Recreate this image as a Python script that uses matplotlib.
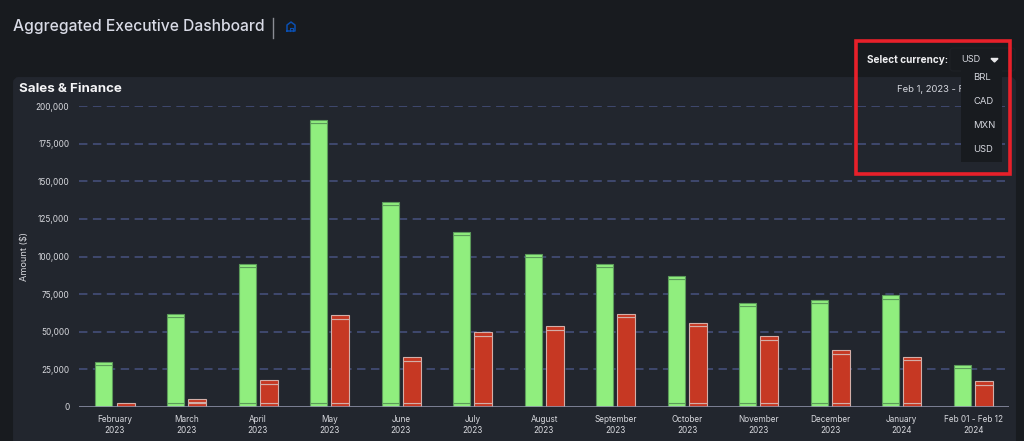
import matplotlib
matplotlib.use("Agg")
import matplotlib.pyplot as plt
from matplotlib.patches import Rectangle, FancyBboxPatch
from matplotlib.transforms import Bbox
import numpy as np

plt.rcParams['font.family'] = ['Inter', 'DejaVu Sans']

periods = ["February\n2023", "March\n2023", "April\n2023", "May\n2023", "June\n2023", "July\n2023",
           "August\n2023", "September\n2023", "October\n2023", "November\n2023", "December\n2023",
           "January\n2024", "Feb 01 - Feb 12\n2024"]
green_base = [0, 2500, 2500, 2500, 2500, 2500, 0, 0, 2500, 2500, 2500, 2500, 0]
green_main = [28000, 57500, 90500, 186000, 131500, 111500, 99500, 93000, 82500, 64500, 66500, 69500, 26000]
green_top = [2000, 2000, 2000, 2500, 2500, 2000, 2000, 2000, 2000, 2000, 2000, 2500, 2000]
red_base = [0, 2500, 2500, 2500, 2500, 2500, 0, 0, 2500, 2500, 2500, 2500, 0]
red_main = [0, 500, 13000, 56000, 28000, 45000, 51000, 59500, 51000, 42000, 33000, 29000, 14500]
red_top = [2500, 2000, 2500, 2500, 2500, 2500, 2500, 2500, 2500, 2500, 2500, 2000, 2500]
y_ticks = [0, 25000, 50000, 75000, 100000, 125000, 150000, 175000, 200000]
currencies = ["BRL", "CAD", "MXN", "USD"]

W, H = 1024, 441
fig = plt.figure(figsize=(W / 100, H / 100), dpi=100, facecolor="#181b1f")
bg = fig.add_axes([0, 0, 1, 1], zorder=0)
bg.set_xlim(0, W); bg.set_ylim(H, 0); bg.axis("off")
bg.add_patch(FancyBboxPatch((16, 80), 997, 400, boxstyle="round,pad=0,rounding_size=3",
                            mutation_aspect=1, fc="#22262e", ec="#22262e", lw=4.3))
bg.add_patch(Rectangle((1016, 0), 8, H, fc="#181b1f", ec="none"))
bg.text(13, 27, "Aggregated Executive Dashboard", color="#d9dbe6", fontsize=11.25, va="center", ha="left", fontweight="medium")
bg.plot([272.5, 272.5], [18, 38], color="#8a8d94", lw=1)
bg.plot([287, 287, 291, 295, 295, 287], [31, 25, 22, 25, 31, 31], color="#0a4fb0", lw=1.1)
bg.plot([289.5, 289.5, 292.5, 292.5], [31, 27.5, 27.5, 31], color="#0a4fb0", lw=0.8)
bg.text(19, 89, "Sales & Finance", color="#f4f4f6", fontsize=9.6, va="center", ha="left", fontweight="bold")
date_txt = bg.text(897, 89, "Feb 1, 2023 - Feb 12, 2024", color="#d5d7de", fontsize=6.8, va="center", ha="left")
date_txt.set_clip_box(Bbox.from_extents(890, 0, 995, H))
date_txt.set_clip_on(True)

ax = fig.add_axes([79 / W, 1 - 407 / H, 930 / W, 301 / H], zorder=1)
ax.patch.set_alpha(0)
x = np.arange(len(periods))
w_g, w_r = 17 / 71.54, 18 / 71.54
off = 10.8 / 71.54
gf, ge, rf, re = "#90ee7e", "#5c9a5a", "#c63823", "#d3aea8"

for yv in y_ticks[1:]:
    ax.axhline(yv, color="#47527f", lw=1.1, dashes=(5.5, 3.6), zorder=1)
ax.axhline(0, color="#8b8fa6", lw=1.2, zorder=4)

ax.bar(x - off, green_base, w_g, color=gf, edgecolor=ge, lw=0.8, zorder=3)
ax.bar(x - off, green_main, w_g, bottom=green_base, color=gf, edgecolor=ge, lw=0.8, zorder=3)
ax.bar(x - off, green_top, w_g, bottom=np.add(green_base, green_main), color=gf, edgecolor=ge, lw=0.8, zorder=3)
ax.bar(x + off, red_base, w_r, color=rf, edgecolor=re, lw=0.8, zorder=3)
ax.bar(x + off, red_main, w_r, bottom=red_base, color=rf, edgecolor=re, lw=0.8, zorder=3)
ax.bar(x + off, red_top, w_r, bottom=np.add(red_base, red_main), color=rf, edgecolor=re, lw=0.8, zorder=3)

ax.set_xlim(-0.5, len(periods) - 0.5)
ax.set_ylim(0, 200000)
ax.set_xticks(x, periods)
ax.set_yticks(y_ticks, [f"{v:,}" for v in y_ticks])
ax.tick_params(axis="both", length=0, colors="#d8d9de", labelsize=5.9)
ax.tick_params(axis="x", pad=5.5)
ax.tick_params(axis="y", pad=7)
for lab in ax.get_xticklabels():
    lab.set_linespacing(1.35)
for s in ax.spines.values():
    s.set_visible(False)
ax.set_ylabel("Amount ($)", color="#d8d9de", fontsize=6.6)
ax.yaxis.set_label_coords((29 - 79) / 930, 0.5)

top = fig.add_axes([0, 0, 1, 1], zorder=2)
top.set_xlim(0, W); top.set_ylim(H, 0); top.axis("off")
top.patch.set_alpha(0)
top.add_patch(FancyBboxPatch((950, 48), 65, 23, boxstyle="round,pad=0,rounding_size=3", fc="#181b1f", ec="#1e2126", lw=0.8))
top.add_patch(Rectangle((961, 65), 41, 97, fc="#181b1f", ec="none"))
top.text(867, 60, "Select currency:", color="#f0f0f2", fontsize=7.2, fontweight="bold", va="center", ha="left")
top.text(961, 60, "USD", color="#d5d7de", fontsize=6.6, va="center", ha="left")
top.fill([991, 998, 994.5], [58.5, 58.5, 62], color="#e8e8ea")
for name, yy in zip(currencies, [78, 102, 126, 149]):
    top.text(973, yy, name, color="#d5d7de", fontsize=6.8, va="center", ha="left")
top.add_patch(Rectangle((855.5, 40.5), 154, 133, fc="none", ec="#e8202a", lw=2.6))

fig.savefig("out.png", dpi=100, facecolor=fig.get_facecolor())
